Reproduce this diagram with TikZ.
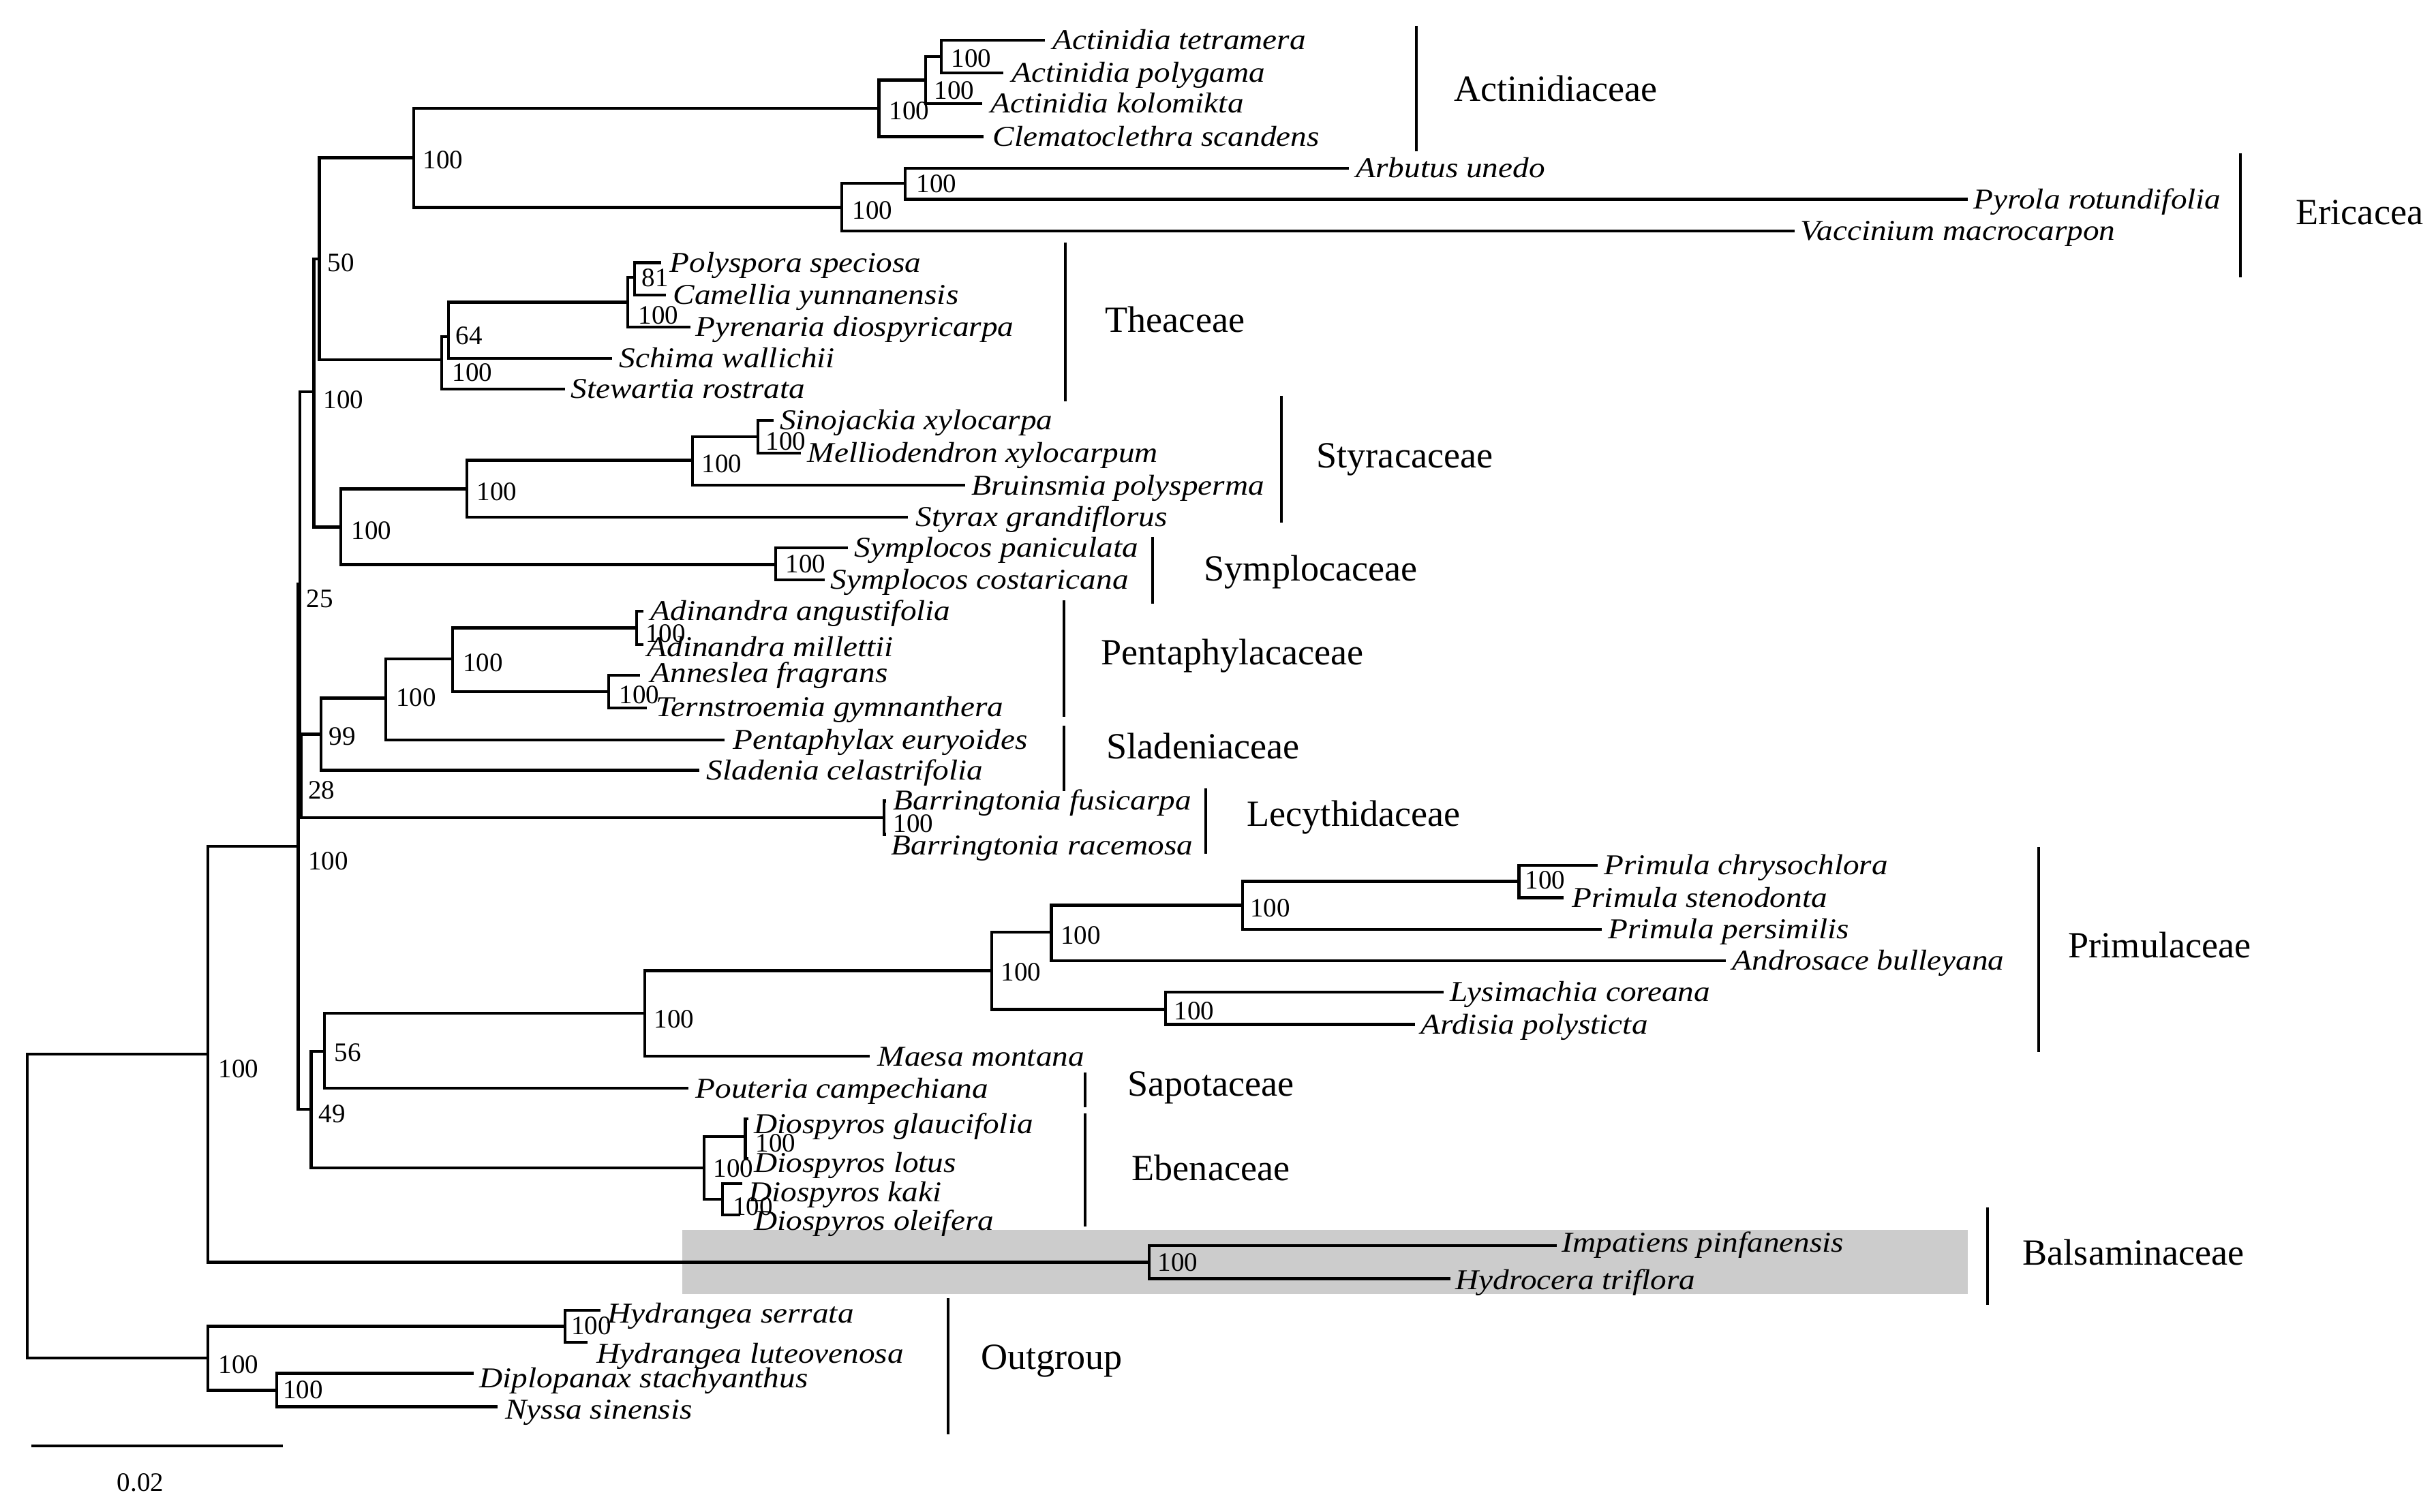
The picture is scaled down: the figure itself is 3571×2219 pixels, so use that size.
\documentclass[tikz,border=0pt]{standalone}
\usepackage{fontspec}
\setmainfont{Liberation Serif}
\newfontfamily\spfont[FakeStretch=1.12]{Liberation Serif}
\begin{document}
\begin{tikzpicture}[x=0.01cm,y=-0.01cm,
  tree/.style={line width=1.4pt},
  br/.style={line width=1.1pt},
  sp/.style={font=\spfont\itshape\fontsize{12pt}{14pt}\selectfont, anchor=base west, inner sep=0pt},
  bs/.style={font=\fontsize{11.1pt}{13pt}\selectfont, anchor=base west, inner sep=0pt},
  fam/.style={font=\fontsize{15.4pt}{18pt}\selectfont, anchor=base west, inner sep=0pt}]
\useasboundingbox (0,0) rectangle (3571,2219);
\fill[white] (0,0) rectangle (3571,2219);
% highlight box
\fill[gray!40] (1001,1805) rectangle (2887,1899);

% internal nodes
\coordinate (root) at (40,1770);
\coordinate (X) at (305,1547);
\coordinate (Out) at (305,1993);
\coordinate (A) at (437.8,1242);
\coordinate (Bal) at (1686,1852.5);
\coordinate (N25) at (440,857);
\coordinate (N49) at (456.6,1628);
\coordinate (N461) at (460.7,575);
\coordinate (N28) at (442,1139);
\coordinate (N50) at (468.4,380);
\coordinate (N500) at (500,773.5);
\coordinate (N99) at (471,1077.5);
\coordinate (N607) at (607,231.3);
\coordinate (T100) at (648,528);
\coordinate (T64) at (658,494);
\coordinate (T921) at (921,443.5);
\coordinate (T81) at (931,407);
\coordinate (Act1) at (1289.7,159);
\coordinate (Act2) at (1358,117.5);
\coordinate (Act3) at (1381,83);
\coordinate (Eri1) at (1235,304.5);
\coordinate (Eri2) at (1328,269);
\coordinate (Sty1) at (685,717.5);
\coordinate (Sty2) at (1016,675.5);
\coordinate (Sty3) at (1112,641);
\coordinate (Sym) at (1138,828.6);
\coordinate (P1) at (566,1024.5);
\coordinate (P2) at (664,967);
\coordinate (Adi) at (934,921.6);
\coordinate (Ann) at (893,1015);
\coordinate (Bar) at (1297,1200);
\coordinate (N56) at (476,1543);
\coordinate (Pr0) at (946,1487);
\coordinate (Pr1) at (1455,1424.6);
\coordinate (Pr2) at (1542.5,1368);
\coordinate (Pr3) at (1823,1328.5);
\coordinate (Pr4) at (2228.6,1293.5);
\coordinate (Lys) at (1710,1481.5);
\coordinate (Eb1) at (1033,1714);
\coordinate (Eb2) at (1093.6,1668);
\coordinate (Eb3) at (1060,1760);
\coordinate (Hyd) at (829,1946.5);
\coordinate (Nys) at (406,2040.8);

% tips
\coordinate (atet) at (1533,59);
\coordinate (apol) at (1472,107);
\coordinate (akol) at (1440.5,152);
\coordinate (csca) at (1443,200.5);
\coordinate (aune) at (1978.6,247);
\coordinate (prot) at (2887,292.7);
\coordinate (vmac) at (2633,339);
\coordinate (pspe) at (970,385.5);
\coordinate (cyun) at (977,433);
\coordinate (pdio) at (1013,480);
\coordinate (swal) at (898,526);
\coordinate (sros) at (829,571);
\coordinate (sxyl) at (1135,617);
\coordinate (mxyl) at (1175,665);
\coordinate (bpol) at (1416,712);
\coordinate (sgra) at (1332,759);
\coordinate (span) at (1244,804);
\coordinate (scos) at (1209.5,851);
\coordinate (aang) at (944,897);
\coordinate (amil) at (944,946);
\coordinate (afra) at (939,991);
\coordinate (tgym) at (949,1039);
\coordinate (peur) at (1063,1086);
\coordinate (scel) at (1026,1130.6);
\coordinate (bfus) at (1300,1175.5);
\coordinate (brac) at (1300,1224.5);
\coordinate (pchr) at (2344,1270);
\coordinate (pste) at (2294,1317.4);
\coordinate (pper) at (2350,1364);
\coordinate (abul) at (2532,1410);
\coordinate (lcor) at (2117.7,1456);
\coordinate (apoly) at (2076,1503.7);
\coordinate (mmon) at (1275.5,1550);
\coordinate (pcam) at (1010,1597);
\coordinate (dgla) at (1098,1642);
\coordinate (dlot) at (1098,1700);
\coordinate (dkak) at (1089,1737);
\coordinate (dole) at (1086,1783);
\coordinate (ipin) at (2284,1828);
\coordinate (htri) at (2128,1876.7);
\coordinate (hser) at (880.6,1923);
\coordinate (hlut) at (862,1970);
\coordinate (dsta) at (695,2015.8);
\coordinate (nsin) at (729.7,2064.4);

% branches
\draw[tree] (root) |- (X);
\draw[tree] (root) |- (Out);
\draw[tree] (X) |- (A);
\draw[tree] (X) |- (Bal);
\draw[tree] (A) |- (N25);
\draw[tree] (A) |- (N49);
\draw[tree] (N25) |- (N461);
\draw[tree] (N25) |- (N28);
\draw[tree] (N461) |- (N50);
\draw[tree] (N461) |- (N500);
\draw[tree] (N50) |- (N607);
\draw[tree] (N50) |- (T100);
\draw[tree] (N607) |- (Act1);
\draw[tree] (N607) |- (Eri1);
\draw[tree] (Act1) |- (Act2);
\draw[tree] (Act1) |- (csca);
\draw[tree] (Act2) |- (Act3);
\draw[tree] (Act2) |- (akol);
\draw[tree] (Act3) |- (atet);
\draw[tree] (Act3) |- (apol);
\draw[tree] (Eri1) |- (Eri2);
\draw[tree] (Eri1) |- (vmac);
\draw[tree] (Eri2) |- (aune);
\draw[tree] (Eri2) |- (prot);
\draw[tree] (T100) |- (T64);
\draw[tree] (T100) |- (sros);
\draw[tree] (T64) |- (T921);
\draw[tree] (T64) |- (swal);
\draw[tree] (T921) |- (T81);
\draw[tree] (T921) |- (pdio);
\draw[tree] (T81) |- (pspe);
\draw[tree] (T81) |- (cyun);
\draw[tree] (N500) |- (Sty1);
\draw[tree] (N500) |- (Sym);
\draw[tree] (Sty1) |- (Sty2);
\draw[tree] (Sty1) |- (sgra);
\draw[tree] (Sty2) |- (Sty3);
\draw[tree] (Sty2) |- (bpol);
\draw[tree] (Sty3) |- (sxyl);
\draw[tree] (Sty3) |- (mxyl);
\draw[tree] (Sym) |- (span);
\draw[tree] (Sym) |- (scos);
\draw[tree] (N28) |- (N99);
\draw[tree] (N28) |- (Bar);
\draw[tree] (N99) |- (P1);
\draw[tree] (N99) |- (scel);
\draw[tree] (P1) |- (P2);
\draw[tree] (P1) |- (peur);
\draw[tree] (P2) |- (Adi);
\draw[tree] (P2) |- (Ann);
\draw[tree] (Adi) |- (aang);
\draw[tree] (Adi) |- (amil);
\draw[tree] (Ann) |- (afra);
\draw[tree] (Ann) |- (tgym);
\draw[tree] (Bar) |- (bfus);
\draw[tree] (Bar) |- (brac);
\draw[tree] (N49) |- (N56);
\draw[tree] (N49) |- (Eb1);
\draw[tree] (N56) |- (Pr0);
\draw[tree] (N56) |- (pcam);
\draw[tree] (Pr0) |- (Pr1);
\draw[tree] (Pr0) |- (mmon);
\draw[tree] (Pr1) |- (Pr2);
\draw[tree] (Pr1) |- (Lys);
\draw[tree] (Pr2) |- (Pr3);
\draw[tree] (Pr2) |- (abul);
\draw[tree] (Pr3) |- (Pr4);
\draw[tree] (Pr3) |- (pper);
\draw[tree] (Pr4) |- (pchr);
\draw[tree] (Pr4) |- (pste);
\draw[tree] (Lys) |- (lcor);
\draw[tree] (Lys) |- (apoly);
\draw[tree] (Eb1) |- (Eb2);
\draw[tree] (Eb1) |- (Eb3);
\draw[tree] (Eb2) |- (dgla);
\draw[tree] (Eb2) |- (dlot);
\draw[tree] (Eb3) |- (dkak);
\draw[tree] (Eb3) |- (dole);
\draw[tree] (Bal) |- (ipin);
\draw[tree] (Bal) |- (htri);
\draw[tree] (Out) |- (Hyd);
\draw[tree] (Out) |- (Nys);
\draw[tree] (Hyd) |- (hser);
\draw[tree] (Hyd) |- (hlut);
\draw[tree] (Nys) |- (dsta);
\draw[tree] (Nys) |- (nsin);

% species labels
\node[sp] (l-atet) at (1543.7,73) {Actinidia tetramera};
\node[sp] (l-apol) at (1484,121) {Actinidia polygama};
\node[sp] (l-akol) at (1452.5,166) {Actinidia kolomikta};
\node[sp] (l-csca) at (1456,214.5) {Clematoclethra scandens};
\node[sp] (l-aune) at (1989,261) {Arbutus unedo};
\node[sp] (l-prot) at (2895,306.7) {Pyrola rotundifolia};
\node[sp] (l-vmac) at (2641,353) {Vaccinium macrocarpon};
\node[sp] (l-pspe) at (982,399.5) {Polyspora speciosa};
\node[sp] (l-cyun) at (987,447) {Camellia yunnanensis};
\node[sp] (l-pdio) at (1020,494) {Pyrenaria diospyricarpa};
\node[sp] (l-swal) at (908,540) {Schima wallichii};
\node[sp] (l-sros) at (837,585) {Stewartia rostrata};
\node[sp] (l-sxyl) at (1143.5,631) {Sinojackia xylocarpa};
\node[sp] (l-mxyl) at (1184,679) {Melliodendron xylocarpum};
\node[sp] (l-bpol) at (1425,727) {Bruinsmia polysperma};
\node[sp] (l-sgra) at (1343,773) {Styrax grandiflorus};
\node[sp] (l-span) at (1253,818) {Symplocos paniculata};
\node[sp] (l-scos) at (1218,865) {Symplocos costaricana};
\node[sp] (l-aang) at (954,911) {Adinandra angustifolia};
\node[sp] (l-amil) at (949,964) {Adinandra millettii};
\node[sp] (l-afra) at (954,1002) {Anneslea fragrans};
\node[sp] (l-tgym) at (962,1052) {Ternstroemia gymnanthera};
\node[sp] (l-peur) at (1075,1100) {Pentaphylax euryoides};
\node[sp] (l-scel) at (1036,1144.6) {Sladenia celastrifolia};
\node[sp] (l-bfus) at (1310,1189) {Barringtonia fusicarpa};
\node[sp] (l-brac) at (1307,1255) {Barringtonia racemosa};
\node[sp] (l-pchr) at (2353,1284) {Primula chrysochlora};
\node[sp] (l-pste) at (2306,1331.4) {Primula stenodonta};
\node[sp] (l-pper) at (2359,1378) {Primula persimilis};
\node[sp] (l-abul) at (2541,1424) {Androsace bulleyana};
\node[sp] (l-lcor) at (2127,1470) {Lysimachia coreana};
\node[sp] (l-apoly) at (2084,1517.7) {Ardisia polysticta};
\node[sp] (l-mmon) at (1287,1564) {Maesa montana};
\node[sp] (l-pcam) at (1020,1611) {Pouteria campechiana};
\node[sp] (l-dgla) at (1106,1663) {Diospyros glaucifolia};
\node[sp] (l-dlot) at (1106,1720) {Diospyros lotus};
\node[sp] (l-dkak) at (1097.6,1763.6) {Diospyros kaki};
\node[sp] (l-dole) at (1106,1805) {Diospyros oleifera};
\node[sp] (l-ipin) at (2291,1837) {Impatiens pinfanensis};
\node[sp] (l-htri) at (2135,1892) {Hydrocera triflora};
\node[sp] (l-hser) at (891,1941.7) {Hydrangea serrata};
\node[sp] (l-hlut) at (875,2000.6) {Hydrangea luteovenosa};
\node[sp] (l-dsta) at (703,2036) {Diplopanax stachyanthus};
\node[sp] (l-nsin) at (740.5,2082) {Nyssa sinensis};

% bootstrap values
\node[bs] (b-N607) at (620,248) {100};
\node[bs] (b-N50) at (480,399) {50};
\node[bs] (b-N461) at (474,600) {100};
\node[bs] (b-T100) at (663,560) {100};
\node[bs] (b-T64) at (668,506) {64};
\node[bs] (b-T921) at (936,476) {100};
\node[bs] (b-T81) at (941,421) {81};
\node[bs] (b-Act1) at (1304,176) {100};
\node[bs] (b-Act2) at (1370,146) {100};
\node[bs] (b-Act3) at (1395,99) {100};
\node[bs] (b-Eri1) at (1250,322) {100};
\node[bs] (b-Eri2) at (1344,283) {100};
\node[bs] (b-N500) at (515,792) {100};
\node[bs] (b-Sty1) at (699,735) {100};
\node[bs] (b-Sty2) at (1029,694) {100};
\node[bs] (b-Sty3) at (1123,661) {100};
\node[bs] (b-Sym) at (1152,841) {100};
\node[bs] (b-N25) at (449,892) {25};
\node[bs] (b-N99) at (482,1094) {99};
\node[bs] (b-N28) at (451.5,1173) {28};
\node[bs] (b-P1) at (580.6,1037) {100};
\node[bs] (b-P2) at (678.6,986) {100};
\node[bs] (b-Adi) at (946.5,943) {100};
\node[bs] (b-Ann) at (908,1033) {100};
\node[bs] (b-Bar) at (1310,1222) {100};
\node[bs] (b-A) at (451.5,1277) {100};
\node[bs] (b-N49) at (467,1647) {49};
\node[bs] (b-N56) at (490,1557.5) {56};
\node[bs] (b-Pr0) at (959,1509) {100};
\node[bs] (b-Pr1) at (1468,1439) {100};
\node[bs] (b-Pr2) at (1555.7,1386) {100};
\node[bs] (b-Pr3) at (1833.5,1346) {100};
\node[bs] (b-Pr4) at (2237,1305) {100};
\node[bs] (b-Lys) at (1722,1496.5) {100};
\node[bs] (b-Eb1) at (1046,1728) {100};
\node[bs] (b-Eb2) at (1108,1690) {100};
\node[bs] (b-Eb3) at (1074.6,1783) {100};
\node[bs] (b-Bal) at (1698,1865) {100};
\node[bs] (b-X) at (320,1581) {100};
\node[bs] (b-Out) at (320,2015) {100};
\node[bs] (b-Hyd) at (837.5,1958) {100};
\node[bs] (b-Nys) at (414.6,2052.6) {100};

% family brackets
\coordinate (kAct1) at (2078,38);   \coordinate (kAct2) at (2078,222);
\coordinate (kEri1) at (3287,225);  \coordinate (kEri2) at (3287,407);
\coordinate (kThe1) at (1563,356);  \coordinate (kThe2) at (1563,589);
\coordinate (kSty1) at (1880,581);  \coordinate (kSty2) at (1880,767);
\coordinate (kSym1) at (1690.6,788); \coordinate (kSym2) at (1690.6,886);
\coordinate (kPen1) at (1561,881);  \coordinate (kPen2) at (1561,1052);
\coordinate (kSla1) at (1561,1065); \coordinate (kSla2) at (1561,1161);
\coordinate (kLec1) at (1769,1157); \coordinate (kLec2) at (1769,1253);
\coordinate (kPri1) at (2991,1243); \coordinate (kPri2) at (2991,1544);
\coordinate (kSap1) at (1592.4,1574); \coordinate (kSap2) at (1592.4,1625);
\coordinate (kEbe1) at (1592.4,1634); \coordinate (kEbe2) at (1592.4,1800);
\coordinate (kBal1) at (2916,1772); \coordinate (kBal2) at (2916,1915);
\coordinate (kOut1) at (1391.4,1905); \coordinate (kOut2) at (1391.4,2105);
\draw[br] (kAct1) -- (kAct2);
\draw[br] (kEri1) -- (kEri2);
\draw[br] (kThe1) -- (kThe2);
\draw[br] (kSty1) -- (kSty2);
\draw[br] (kSym1) -- (kSym2);
\draw[br] (kPen1) -- (kPen2);
\draw[br] (kSla1) -- (kSla2);
\draw[br] (kLec1) -- (kLec2);
\draw[br] (kPri1) -- (kPri2);
\draw[br] (kSap1) -- (kSap2);
\draw[br] (kEbe1) -- (kEbe2);
\draw[br] (kBal1) -- (kBal2);
\draw[br] (kOut1) -- (kOut2);

% family labels
\node[fam] (f-Act) at (2133,149) {Actinidiaceae};
\node[fam] (f-Eri) at (3368,330) {Ericacea};
\node[fam] (f-The) at (1621,488) {Theaceae};
\node[fam] (f-Sty) at (1931,687) {Styracaceae};
\node[fam] (f-Sym) at (1766,853) {Symplocaceae};
\node[fam] (f-Pen) at (1615,975.5) {Pentaphylacaceae};
\node[fam] (f-Sla) at (1623,1114) {Sladeniaceae};
\node[fam] (f-Lec) at (1829,1213) {Lecythidaceae};
\node[fam] (f-Pri) at (3034,1405.6) {Primulaceae};
\node[fam] (f-Sap) at (1654,1609) {Sapotaceae};
\node[fam] (f-Ebe) at (1660,1732) {Ebenaceae};
\node[fam] (f-Bal) at (2967,1856.7) {Balsaminaceae};
\node[fam] (f-Out) at (1438.4,2009) {Outgroup};

% scale bar
\coordinate (sb1) at (45.6,2122);
\coordinate (sb2) at (414.6,2122);
\draw[tree] (sb1) -- (sb2);
\node[bs, anchor=base] (sblab) at (206,2188) {0.02};
\end{tikzpicture}
\end{document}
